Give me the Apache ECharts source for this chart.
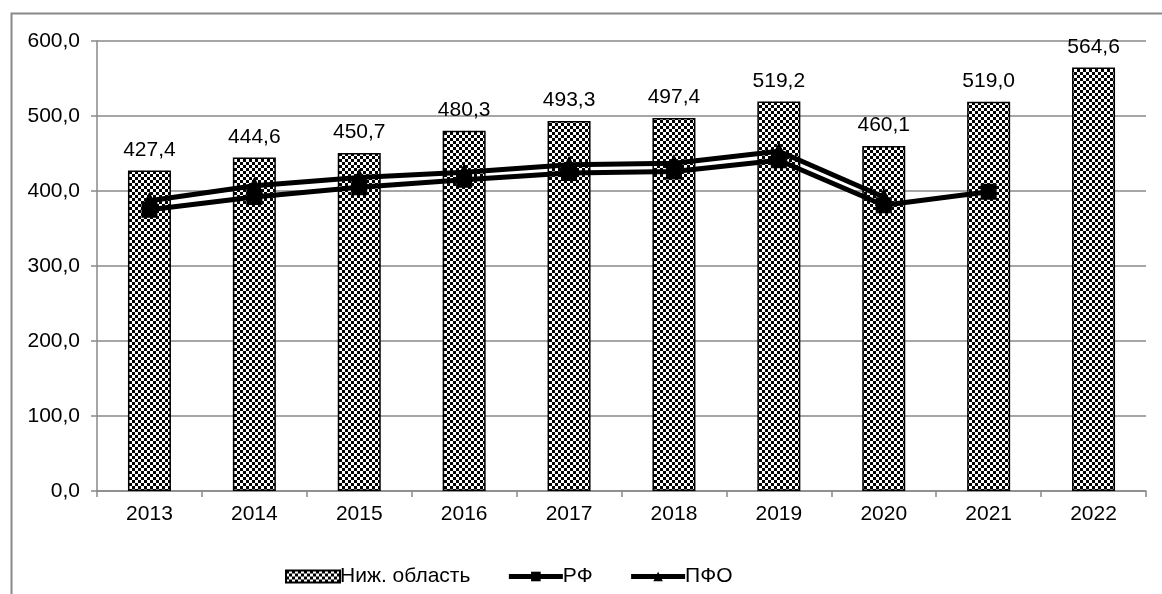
<!DOCTYPE html>
<html>
<head>
<meta charset="utf-8">
<script src="https://cdn.jsdelivr.net/npm/echarts@6/dist/echarts.min.js"></script>
<style>
html,body{margin:0;padding:0;background:#fff;}
#chart{width:1162px;height:594px;}
</style>
</head>
<body>
<div id="chart"></div>
<script>
const categories = ['2013','2014','2015','2016','2017','2018','2019','2020','2021','2022'];
const regionValues = [427.4, 444.6, 450.7, 480.3, 493.3, 497.4, 519.2, 460.1, 519.0, 564.6];
const rfValues = [375, 392, 405, 415, 424, 426, 441, 381, 399, null];
const pfoValues = [387, 407, 418, 425, 435, 437, 453, 392, null, null];
const seriesNames = ['Ниж. область', 'РФ', 'ПФО'];
const yTicks = {min: 0, max: 600, interval: 100};

function makePattern(){
  const c = document.createElement('canvas');
  c.width = 6; c.height = 6;
  const ctx = c.getContext('2d');
  ctx.fillStyle = '#fff'; ctx.fillRect(0,0,6,6);
  ctx.fillStyle = '#000';
  ctx.fillRect(0,0,3,3);
  ctx.fillRect(3,3,3,3);
  return c;
}
const pattern = {image: makePattern(), repeat: 'repeat'};
const fmt = v => v.toFixed(1).replace('.', ',');
const font = 'Liberation Sans, Arial, sans-serif';
const FS = 21;

const chart = echarts.init(document.getElementById('chart'), null, {renderer: 'canvas'});
chart.setOption({
  animation: false,
  backgroundColor: '#fff',
  textStyle: {fontFamily: font},
  graphic: [{
    type: 'rect', left: 9, top: 11, silent: true,
    shape: {x: 0, y: 0, width: 1300, height: 800},
    style: {fill: 'none', stroke: '#898989', lineWidth: 2}
  }],
  grid: {left: 97, right: 16, top: 41, bottom: 103, containLabel: false},
  legend: {
    left: 280, top: 561,
    itemWidth: 54, itemHeight: 12, itemGap: 36,
    textStyle: {fontFamily: font, fontSize: FS, color: '#000', padding: [0,0,0,-5]},
    data: [
      {name: seriesNames[0], icon: 'rect'},
      {name: seriesNames[1], lineStyle: {width: 5, color: '#000'}},
      {name: seriesNames[2], lineStyle: {width: 5, color: '#000'}}
    ]
  },
  xAxis: {
    type: 'category', data: categories,
    axisLine: {lineStyle: {color: '#898989', width: 1.5}},
    axisTick: {show: true, length: 6, lineStyle: {color: '#898989', width: 1.5}},
    axisLabel: {color: '#000', fontSize: FS, fontFamily: font, margin: 13}
  },
  yAxis: {
    type: 'value', min: yTicks.min, max: yTicks.max, interval: yTicks.interval,
    axisLine: {show: true, lineStyle: {color: '#898989', width: 1.5}},
    axisTick: {show: true, length: 6, lineStyle: {color: '#898989', width: 1.5}},
    splitLine: {lineStyle: {color: '#898989', width: 1.5}},
    axisLabel: {color: '#000', fontSize: FS, fontFamily: font, margin: 17, formatter: v => fmt(v)}
  },
  series: [
    {
      name: seriesNames[0], type: 'bar', data: regionValues, barWidth: 43,
      itemStyle: {color: pattern, borderColor: '#000', borderWidth: 1.5},
      label: {show: true, position: 'top', distance: 10, color: '#000', fontSize: FS, fontFamily: font, formatter: p => fmt(p.value)},
      z: 2
    },
    {
      name: seriesNames[1], type: 'line', data: rfValues,
      symbol: 'rect', symbolSize: 16, showAllSymbol: true,
      lineStyle: {color: '#000', width: 5}, itemStyle: {color: '#000'},
      z: 4
    },
    {
      name: seriesNames[2], type: 'line', data: pfoValues,
      symbol: 'triangle', symbolSize: 18, showAllSymbol: true,
      lineStyle: {color: '#000', width: 5}, itemStyle: {color: '#000'},
      z: 3
    }
  ]
});
</script>
</body>
</html>
